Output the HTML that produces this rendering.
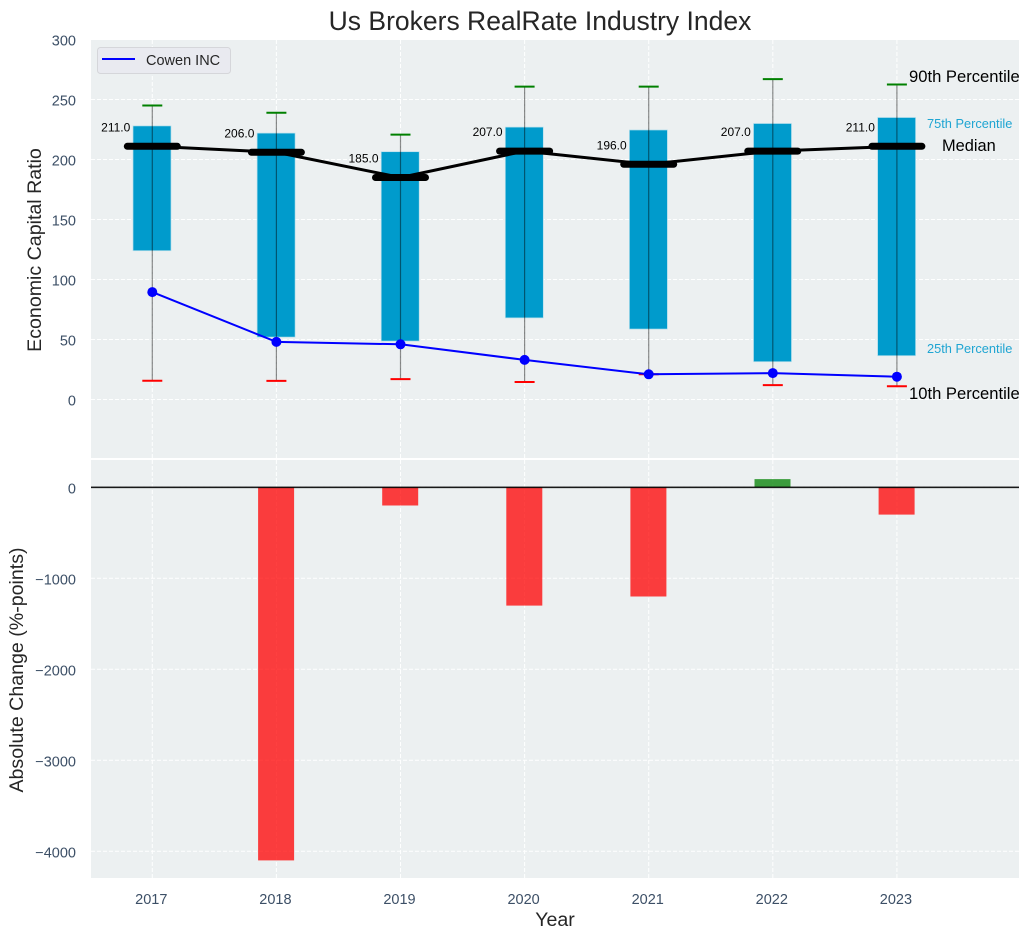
<!DOCTYPE html>
<html>
<head>
<meta charset="utf-8">
<title>Us Brokers RealRate Industry Index</title>
<style>
html,body{margin:0;padding:0;background:#fff;width:1030px;height:940px;overflow:hidden}
svg{display:block;font-family:"Liberation Sans",sans-serif}
</style>
</head>
<body>
<svg id="chart" xmlns="http://www.w3.org/2000/svg" width="1030" height="940" viewBox="0 0 1030 940">
  <rect x="91" y="40" width="928" height="418" fill="#ecf0f1"/>
  <rect x="91" y="460" width="928" height="418" fill="#ecf0f1"/>
  <g id="grid"></g>
  <g id="bars"></g>
  <g id="boxes"></g>
  <g id="whiskers"></g>
  <g id="medians"></g>
  <g id="company"></g>
  <g id="ticks"></g>
  <g id="values"></g>

  <text x="540" y="30" text-anchor="middle" font-size="26.5" fill="#262626">Us Brokers RealRate Industry Index</text>
  <text transform="translate(41,250) rotate(-90)" text-anchor="middle" font-size="19.6" fill="#262626">Economic Capital Ratio</text>
  <text transform="translate(23,670) rotate(-90)" text-anchor="middle" font-size="19.6" fill="#262626">Absolute Change (%-points)</text>
  <text x="555" y="926" text-anchor="middle" font-size="19.6" fill="#262626">Year</text>

  <text x="909" y="82" font-size="16.6" fill="#000">90th Percentile</text>
  <text x="927" y="128" font-size="12.8" fill="#1fa5d2">75th Percentile</text>
  <text x="942" y="151" font-size="16.4" fill="#000">Median</text>
  <text x="927" y="353" font-size="12.8" fill="#1fa5d2">25th Percentile</text>
  <text x="909" y="399" font-size="16.6" fill="#000">10th Percentile</text>

  <g>
    <rect x="97.5" y="47.5" width="133" height="26" rx="3" fill="#e9eaf0" stroke="#d5d6da"/>
    <line x1="102" y1="59" x2="135" y2="59" stroke="#0000ff" stroke-width="2"/>
    <text x="146" y="65" font-size="14.5" fill="#262626">Cowen INC</text>
  </g>
</svg>
<script>
const years = [2017, 2018, 2019, 2020, 2021, 2022, 2023];
const p10 = [15.6, 15.5, 17, 14.6, 21, 12, 11];
const p25 = [124, 52, 48.7, 68, 58.7, 31.5, 36.5];
const medians = [211, 206, 185, 207, 196, 207, 211];
const p75 = [228, 222, 206.5, 227, 224.6, 230, 235];
const p90 = [245, 239, 220.7, 260.7, 260.7, 267, 262.5];
const cowen = [89.5, 48, 46, 33, 21, 22, 19];
const changes = [0, -4100, -200, -1300, -1200, 90, -300];
const topTicks = [0, 50, 100, 150, 200, 250, 300];
const bottomTicks = [-4000, -3000, -2000, -1000, 0];

const NS = 'http://www.w3.org/2000/svg';
const xScale = function (v) { return 152.3 + (v - 2017) * 124.1; };
const yTop = function (v) { return 399.5 - v * 1.2; };
const yBottom = function (v) { return 487.3 - v * 0.091; };

function make(parent, tag, attrs, text) {
  const el = document.createElementNS(NS, tag);
  for (const k in attrs) el.setAttribute(k, attrs[k]);
  if (text !== undefined) el.textContent = text;
  document.getElementById(parent).appendChild(el);
  return el;
}
function fmt(v) { return v < 0 ? '\u2212' + Math.abs(v) : String(v); }

const gridStyle = { stroke: '#ffffff', 'stroke-width': 1, 'stroke-dasharray': '4 2', 'stroke-opacity': 0.95 };

years.forEach(function (yr) {
  const x = xScale(yr);
  const gridTop = make('grid', 'line', Object.assign({ x1: x, x2: x, y1: 40, y2: 458 }, gridStyle));
  
  
  const gridBot = make('grid', 'line', Object.assign({ x1: x, x2: x, y1: 460, y2: 878 }, gridStyle));
  
  
  const label = make('ticks', 'text', { x: x - 1, y: 904, 'text-anchor': 'middle', 'font-size': 14.5, fill: '#3c4f66' }, String(yr));
  
  
});

topTicks.forEach(function (t) {
  const y = yTop(t);
  const g = make('grid', 'line', Object.assign({ x1: 91, x2: 1019, y1: y, y2: y }, gridStyle));
  
  
  const label = make('ticks', 'text', { x: 76, y: y + 6, 'text-anchor': 'end', 'font-size': 14.5, fill: '#3c4f66' }, fmt(t));
  
  
});

bottomTicks.forEach(function (t) {
  const y = yBottom(t);
  const g = make('grid', 'line', Object.assign({ x1: 91, x2: 1019, y1: y, y2: y }, gridStyle));
  
  
  const label = make('ticks', 'text', { x: 76, y: y + 6, 'text-anchor': 'end', 'font-size': 14.5, fill: '#3c4f66' }, fmt(t));
  
  
});

changes.forEach(function (v, i) {
  if (v === 0) return;
  const x = xScale(years[i]);
  const y0 = yBottom(0);
  const y1 = yBottom(v);
  const bar = make('bars', 'rect', {
    x: x - 18.3, y: Math.min(y0, y1), width: 36, height: Math.abs(y1 - y0),
    fill: v < 0 ? '#ff0000' : '#008000', 'fill-opacity': 0.75
  });
  
  
});

const zeroHalo = make('bars', 'line', { x1: 91, x2: 1019, y1: yBottom(0), y2: yBottom(0), stroke: '#000', 'stroke-opacity': 0.2, 'stroke-width': 2.6 });


const zeroLine = make('bars', 'line', { x1: 91, x2: 1019, y1: yBottom(0), y2: yBottom(0), stroke: '#000', 'stroke-width': 1.1 });



years.forEach(function (yr, i) {
  const x = xScale(yr);
  const box = make('boxes', 'rect', {
    x: x - 19.3, y: yTop(p75[i]), width: 38, height: yTop(p25[i]) - yTop(p75[i]),
    fill: '#009bcc', stroke: '#b5dfec', 'stroke-width': 0.7
  });
  
  

  const whisker = make('whiskers', 'line', { x1: x, x2: x, y1: yTop(p90[i]), y2: yTop(p10[i]), stroke: '#000', 'stroke-opacity': 0.45, 'stroke-width': 1.2 });
  
  

  const capHigh = make('whiskers', 'line', { x1: x - 10, x2: x + 10, y1: yTop(p90[i]), y2: yTop(p90[i]), stroke: '#008000', 'stroke-width': 2 });
  
  

  const capLow = make('whiskers', 'line', { x1: x - 10, x2: x + 10, y1: yTop(p10[i]), y2: yTop(p10[i]), stroke: '#ff0000', 'stroke-width': 2 });
  
  
});

const medianLine = make('medians', 'polyline', {
  points: years.map(function (yr, i) { return xScale(yr) + ',' + yTop(medians[i]); }).join(' '),
  fill: 'none', stroke: '#000', 'stroke-width': 3
});



years.forEach(function (yr, i) {
  const x = xScale(yr);
  const y = yTop(medians[i]);
  const bar = make('medians', 'line', { x1: x - 25, x2: x + 25, y1: y, y2: y, stroke: '#000', 'stroke-width': 7, 'stroke-linecap': 'round' });
  
  
  const label = make('values', 'text', { x: x - 22, y: y - 15, 'text-anchor': 'end', 'font-size': 12, fill: '#000' }, medians[i].toFixed(1));
  
  
});

const companyLine = make('company', 'polyline', {
  points: years.map(function (yr, i) { return xScale(yr) + ',' + yTop(cowen[i]); }).join(' '),
  fill: 'none', stroke: '#0000ff', 'stroke-width': 2
});



years.forEach(function (yr, i) {
  const dot = make('company', 'circle', { cx: xScale(yr), cy: yTop(cowen[i]), r: 5, fill: '#0000ff' });
  
  
});
</script>
</body>
</html>
